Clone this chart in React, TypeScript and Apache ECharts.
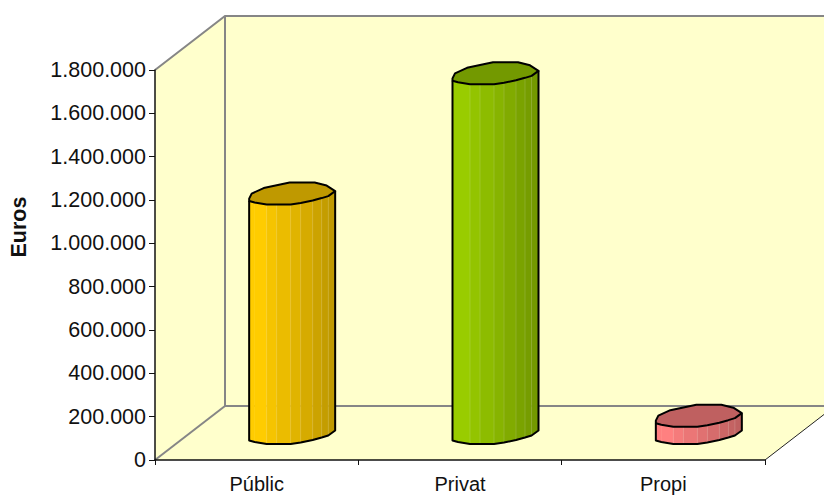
import React, { useEffect, useRef } from "react";
import * as echarts from "echarts";

const categories = ["Públic", "Privat", "Propi"];
const values = [1105000, 1660000, 80000];
const yTicks = { min: 0, max: 1800000, interval: 200000 };
const axisTitle = "Euros";

const sideColors = ["#ffcc00", "#99cc00", "#ff8080"];
const wallColor = "#ffffcc";
const wallEdge = "#868686";

// Depth of the fake 3D box, in pixels.
const DEPTH_X = 70;
const DEPTH_Y = 54;

// Faceted cap outline, relative to the cylinder's centre.
const backProfile: number[][] = [
  [-42.5, 5], [-40, 0], [-28, -5.5], [-2, -11], [23, -11], [35, -8], [43.5, -2.5],
];
const frontProfile: number[][] = [
  [-42.5, 7.5], [-37, 9], [-25, 11], [-15, 11], [-1, 11], [9, 9.5], [21, 7], [30, 4.5], [36.6, 2.5], [43.5, -2.5],
];
const facetShade = [1, 1, 0.96, 0.92, 0.88, 0.84, 0.8, 0.77, 0.75];

function shade(hex: string, f: number): string {
  const n = parseInt(hex.slice(1), 16);
  const c = [(n >> 16) & 255, (n >> 8) & 255, n & 255].map((v) => Math.round(v * f));
  return `rgb(${c[0]},${c[1]},${c[2]})`;
}

function renderWalls(_: any, api: any) {
  const band = api.size([1, 0])[0];
  const [c0, y0] = api.coord([0, 0]);
  const yTop = api.coord([0, yTicks.max])[1];
  const x0 = c0 - band / 2;
  const x1 = x0 + band * categories.length;
  const bx0 = x0 + DEPTH_X;
  const by0 = y0 - DEPTH_Y;
  const byTop = yTop - DEPTH_Y;
  const bx1 = x1 + DEPTH_X;
  const edge = { stroke: wallEdge, lineWidth: 2, fill: "none" };
  return {
    type: "group",
    children: [
      { type: "polygon", shape: { points: [[bx0, byTop], [bx1, byTop], [bx1, by0], [bx0, by0]] }, style: { fill: wallColor } },
      { type: "polygon", shape: { points: [[x0, yTop], [bx0, byTop], [bx0, by0], [x0, y0]] }, style: { fill: wallColor } },
      { type: "polygon", shape: { points: [[x0, y0], [bx0, by0], [bx1, by0], [x1, y0]] }, style: { fill: wallColor } },
      { type: "polyline", shape: { points: [[x0, yTop], [bx0, byTop], [bx1, byTop]] }, style: edge },
      { type: "polyline", shape: { points: [[bx0, byTop], [bx0, by0], [bx1, by0]] }, style: edge },
      { type: "line", shape: { x1: x0, y1: y0, x2: bx0, y2: by0 }, style: edge },
      { type: "line", shape: { x1: x1, y1: y0, x2: bx1, y2: by0 }, style: { stroke: "#222", lineWidth: 1 } },
    ],
  };
}

function renderCylinder(params: any, api: any) {
  const idx = params.dataIndex;
  const [cx0, cyBase] = api.coord([idx, 0]);
  const cyTop = api.coord([idx, api.value(1)])[1];
  const cx = cx0 + DEPTH_X / 2;
  const yBottom = cyBase - DEPTH_Y / 2;
  const yTop = cyTop - DEPTH_Y / 2;
  const base = sideColors[idx];

  const facets = frontProfile.slice(0, -1).map((p, i) => {
    const q = frontProfile[i + 1];
    return {
      type: "polygon",
      shape: {
        points: [
          [cx + p[0], yTop + p[1]],
          [cx + q[0], yTop + q[1]],
          [cx + q[0], yBottom + q[1]],
          [cx + p[0], yBottom + p[1]],
        ],
      },
      style: { fill: shade(base, facetShade[i]), stroke: shade(base, facetShade[i]), lineWidth: 0.5 },
    };
  });

  // Pale seams between neighbouring facets.
  const seams = frontProfile.slice(2, -1).map((p) => ({
    type: "line",
    shape: { x1: cx + p[0], y1: yTop + p[1], x2: cx + p[0], y2: yBottom + p[1] },
    style: { stroke: "rgba(255,255,255,0.15)", lineWidth: 1 },
  }));

  const toTop = (p: number[]) => [cx + p[0], yTop + p[1]];
  const toBottom = (p: number[]) => [cx + p[0], yBottom + p[1]];
  const rim = [...backProfile.map(toTop), ...frontProfile.slice().reverse().map(toTop)];
  const bodyEdge = [
    toTop(frontProfile[0]),
    ...frontProfile.map(toBottom),
    toTop(frontProfile[frontProfile.length - 1]),
  ];
  const line = { stroke: "#000", lineWidth: 2, lineJoin: "round" };

  return {
    type: "group",
    children: [
      ...facets,
      ...seams,
      { type: "polygon", shape: { points: rim }, style: { fill: shade(base, 0.75), ...line } },
      { type: "polyline", shape: { points: bodyEdge }, style: { fill: "none", ...line } },
    ],
  };
}

export default function App() {
  const ref = useRef<HTMLDivElement>(null);

  useEffect(() => {
    const chart = echarts.init(ref.current!, undefined, { renderer: "svg" });
    chart.setOption({
      animation: false,
      backgroundColor: "#ffffff",
      textStyle: { fontFamily: "'Liberation Sans', Arial, sans-serif" },
      grid: { left: 155, right: 59, top: 70, bottom: 36, outerBoundsMode: "none", containLabel: false },
      graphic: [
        {
          type: "text",
          x: 19,
          y: 227,
          rotation: Math.PI / 2,
          style: {
            text: axisTitle,
            fill: "#111",
            font: "bold 21.5px 'Liberation Sans', Arial, sans-serif",
            align: "center",
            verticalAlign: "middle",
          },
        },
      ],
      xAxis: {
        type: "category",
        data: categories,
        axisLine: { lineStyle: { color: "#111", width: 1.5 } },
        axisTick: { show: true, alignWithLabel: false, length: 5, lineStyle: { color: "#111" } },
        axisLabel: { color: "#111", fontSize: 20, margin: 14 },
        splitLine: { show: false },
      },
      yAxis: {
        type: "value",
        ...yTicks,
        axisLine: { show: true, lineStyle: { color: "#111", width: 1.5 } },
        axisTick: { show: true, length: 6, lineStyle: { color: "#111" } },
        axisLabel: {
          color: "#111",
          fontSize: 21.5,
          margin: 9,
          formatter: (v: number) => String(v).replace(/\B(?=(\d{3})+$)/g, "."),
        },
        splitLine: { show: false },
      },
      series: [
        {
          type: "custom",
          renderItem: renderWalls,
          data: [[0, 0]],
          clip: false,
          silent: true,
          z: 0,
        },
        {
          type: "custom",
          renderItem: renderCylinder,
          data: values.map((v, i) => [i, v]),
          encode: { x: 0, y: 1 },
          clip: false,
          silent: true,
          z: 3,
        },
      ],
    });
    return () => chart.dispose();
  }, []);

  return (
    <div
      ref={ref}
      style={{ position: "absolute", left: 0, top: 0, width: 824, height: 496 }}
    />
  );
}
